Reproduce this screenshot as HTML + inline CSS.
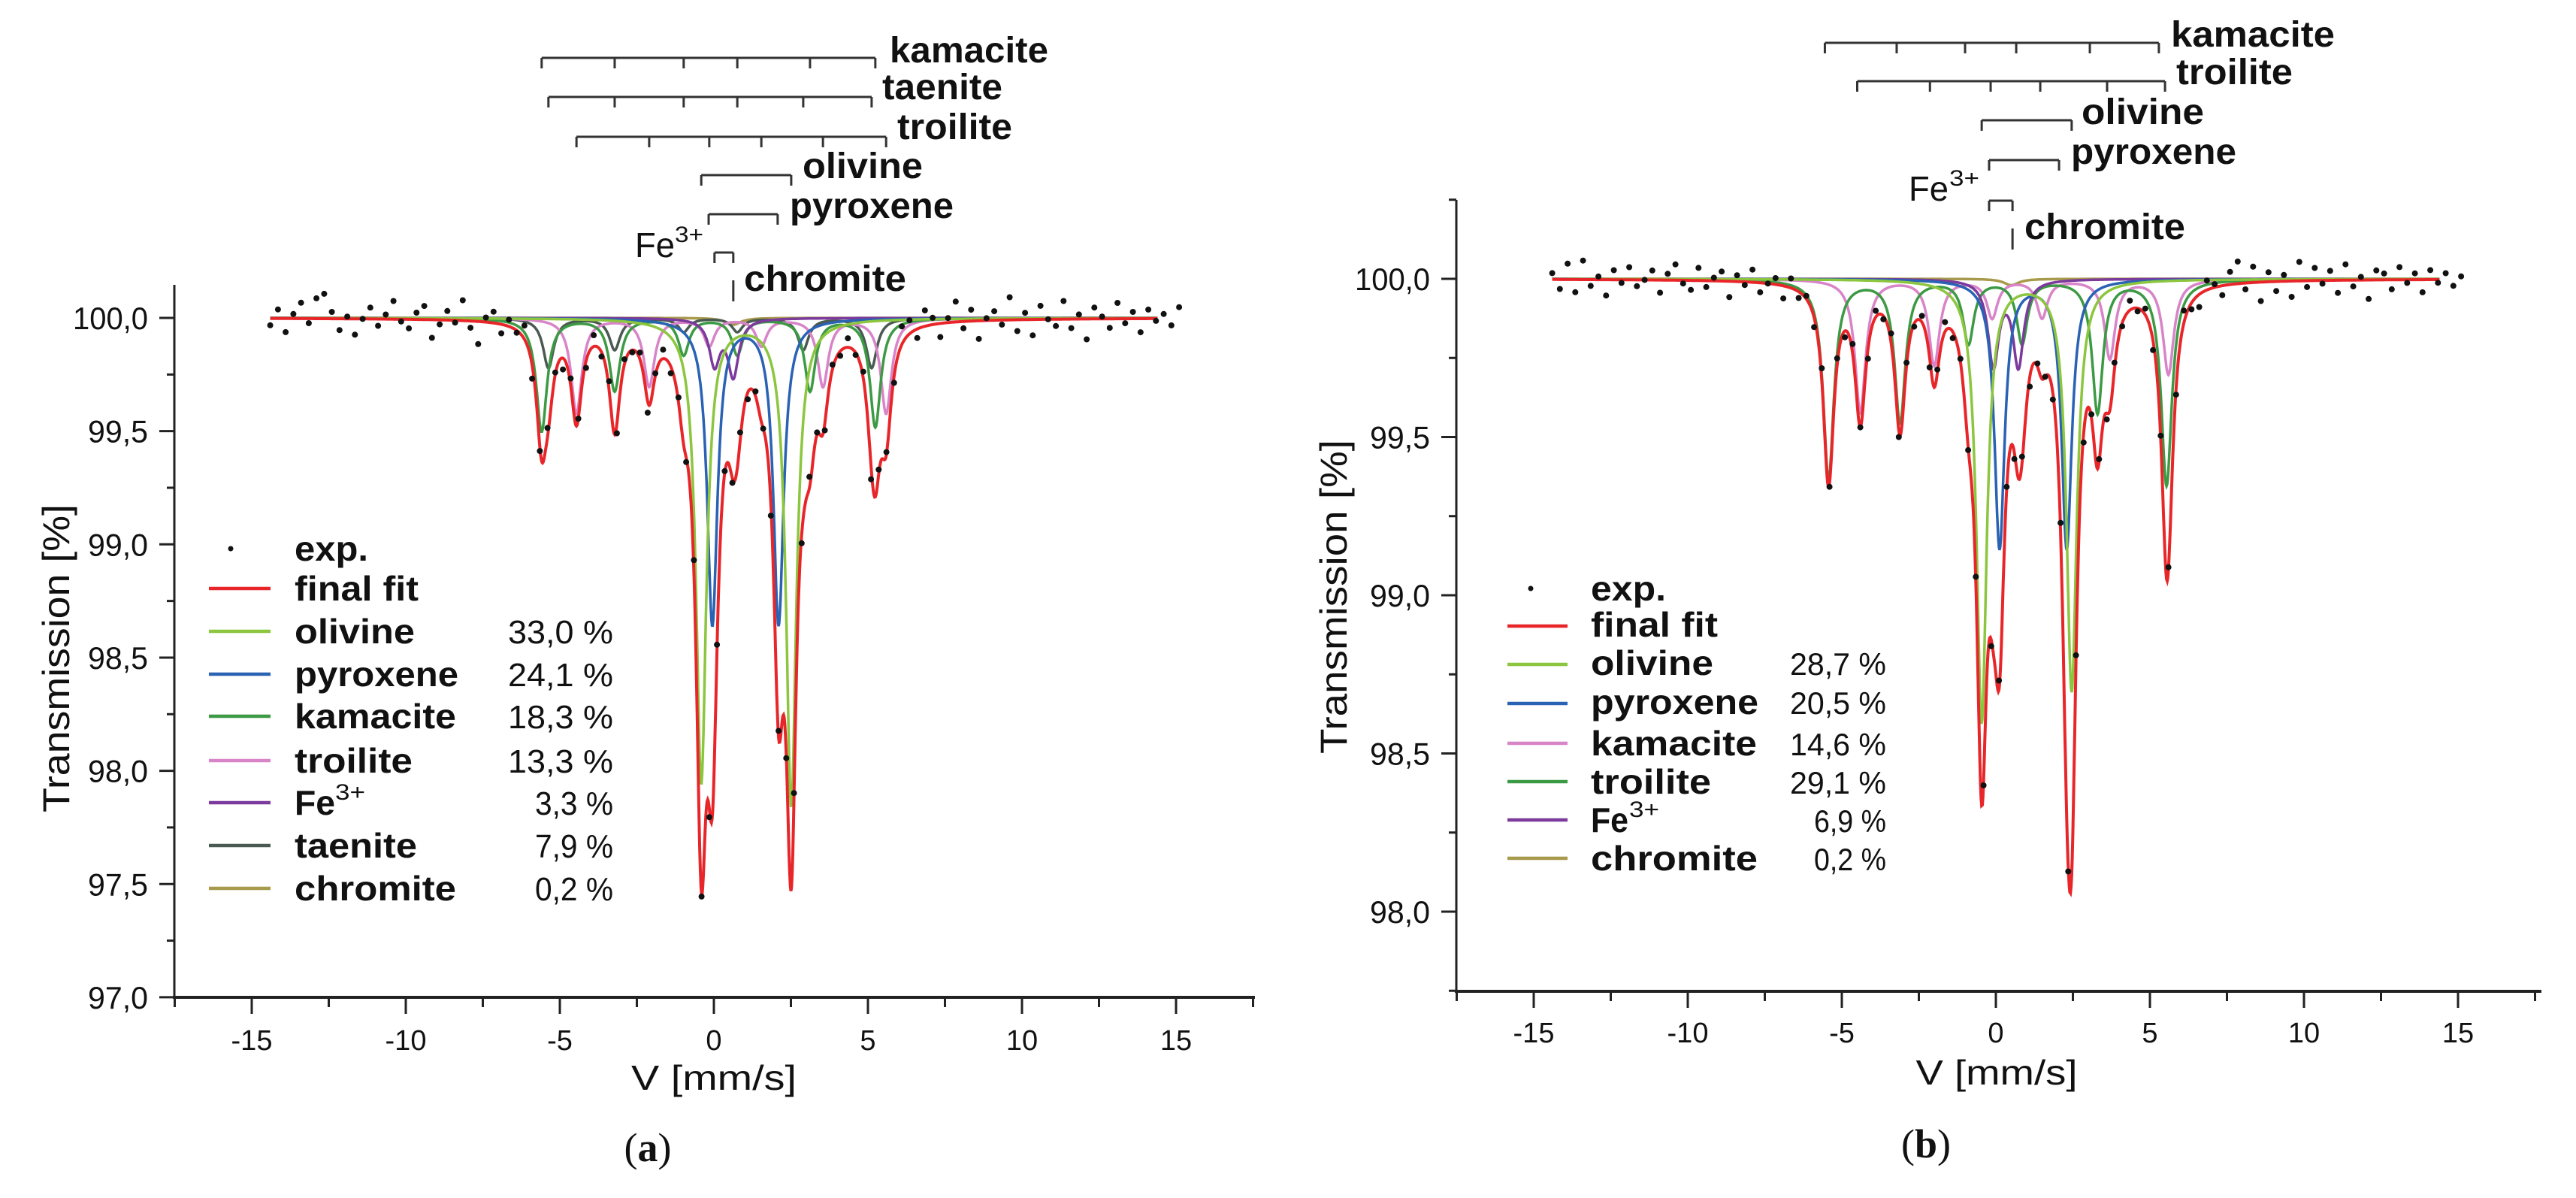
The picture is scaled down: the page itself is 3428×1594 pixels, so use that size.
<!DOCTYPE html>
<html><head><meta charset="utf-8"><title>Mössbauer spectra</title>
<style>
html,body{margin:0;padding:0;background:#fff;}
svg{display:block;}
text{font-family:"Liberation Sans",sans-serif;fill:#111;}
.nar{font-family:"Liberation Sans Narrow","Liberation Sans",sans-serif;}
.b{font-weight:bold;}
</style></head>
<body>
<svg id="fig" xmlns="http://www.w3.org/2000/svg" width="3428" height="1594" viewBox="0 0 3428 1594">
<rect x="0" y="0" width="3428" height="1594" fill="#fff"/>

<g>
  <g id="brA"></g>
  <text x="1184" y="83" font-size="48" class="b" textLength="211" lengthAdjust="spacingAndGlyphs">kamacite</text>
  <text x="1174" y="132" font-size="48" class="b" textLength="160" lengthAdjust="spacingAndGlyphs">taenite</text>
  <text x="1194" y="185" font-size="48" class="b" textLength="153" lengthAdjust="spacingAndGlyphs">troilite</text>
  <text x="1068" y="237" font-size="48" class="b" textLength="160" lengthAdjust="spacingAndGlyphs">olivine</text>
  <text x="1051" y="290" font-size="48" class="b" textLength="218" lengthAdjust="spacingAndGlyphs">pyroxene</text>
  <text x="845" y="342" font-size="46" textLength="53" lengthAdjust="spacingAndGlyphs">Fe</text>
  <text x="898" y="322" font-size="30" textLength="38" lengthAdjust="spacingAndGlyphs">3+</text>
  <text x="990" y="387" font-size="48" class="b" textLength="216" lengthAdjust="spacingAndGlyphs">chromite</text>

  <text transform="translate(92,876) rotate(-90)" text-anchor="middle" font-size="50" class="nar" textLength="410" lengthAdjust="spacingAndGlyphs">Transmission [%]</text>
  <text x="950" y="1450" text-anchor="middle" font-size="46" class="nar" textLength="220" lengthAdjust="spacingAndGlyphs">V [mm/s]</text>
  <text x="862" y="1545" text-anchor="middle" font-size="54" style="font-family:'Liberation Serif',serif">(<tspan font-weight="bold">a</tspan>)</text>

  <g>
    <circle cx="307" cy="730" r="3.5" fill="#111"/>
    <text x="392" y="746" font-size="46" class="b" textLength="98" lengthAdjust="spacingAndGlyphs">exp.</text>
    <line x1="278" y1="783" x2="360" y2="783" stroke="#e8262a" stroke-width="4.5"/>
    <text x="392" y="799" font-size="46" class="b" textLength="165" lengthAdjust="spacingAndGlyphs">final fit</text>
    <line x1="278" y1="840" x2="360" y2="840" stroke="#8cc63f" stroke-width="4.5"/>
    <text x="392" y="856" font-size="46" class="b" textLength="160" lengthAdjust="spacingAndGlyphs">olivine</text>
    <text x="816" y="856" text-anchor="end" font-size="44" textLength="140" lengthAdjust="spacingAndGlyphs">33,0 %</text>
    <line x1="278" y1="897" x2="360" y2="897" stroke="#2a62b4" stroke-width="4.5"/>
    <text x="392" y="913" font-size="46" class="b" textLength="218" lengthAdjust="spacingAndGlyphs">pyroxene</text>
    <text x="816" y="913" text-anchor="end" font-size="44" textLength="140" lengthAdjust="spacingAndGlyphs">24,1 %</text>
    <line x1="278" y1="953" x2="360" y2="953" stroke="#3c9a44" stroke-width="4.5"/>
    <text x="392" y="969" font-size="46" class="b" textLength="215" lengthAdjust="spacingAndGlyphs">kamacite</text>
    <text x="816" y="969" text-anchor="end" font-size="44" textLength="140" lengthAdjust="spacingAndGlyphs">18,3 %</text>
    <line x1="278" y1="1012" x2="360" y2="1012" stroke="#d884c8" stroke-width="4.5"/>
    <text x="392" y="1028" font-size="46" class="b" textLength="157" lengthAdjust="spacingAndGlyphs">troilite</text>
    <text x="816" y="1028" text-anchor="end" font-size="44" textLength="140" lengthAdjust="spacingAndGlyphs">13,3 %</text>
    <line x1="278" y1="1068" x2="360" y2="1068" stroke="#7b3a9c" stroke-width="4.5"/>
    <text x="392" y="1084" font-size="46" class="b" textLength="54" lengthAdjust="spacingAndGlyphs">Fe</text>
    <text x="446" y="1064" font-size="30" textLength="40" lengthAdjust="spacingAndGlyphs">3+</text>
    <text x="816" y="1084" text-anchor="end" font-size="44" textLength="104" lengthAdjust="spacingAndGlyphs">3,3 %</text>
    <line x1="278" y1="1125" x2="360" y2="1125" stroke="#4a5a52" stroke-width="4.5"/>
    <text x="392" y="1141" font-size="46" class="b" textLength="163" lengthAdjust="spacingAndGlyphs">taenite</text>
    <text x="816" y="1141" text-anchor="end" font-size="44" textLength="104" lengthAdjust="spacingAndGlyphs">7,9 %</text>
    <line x1="278" y1="1182" x2="360" y2="1182" stroke="#a89a4c" stroke-width="4.5"/>
    <text x="392" y="1198" font-size="46" class="b" textLength="215" lengthAdjust="spacingAndGlyphs">chromite</text>
    <text x="816" y="1198" text-anchor="end" font-size="44" textLength="104" lengthAdjust="spacingAndGlyphs">0,2 %</text>
  </g>
</g>

<g>
  <g id="brB"></g>
  <text x="2889" y="62" font-size="48" class="b" textLength="218" lengthAdjust="spacingAndGlyphs">kamacite</text>
  <text x="2896" y="112" font-size="48" class="b" textLength="155" lengthAdjust="spacingAndGlyphs">troilite</text>
  <text x="2770" y="165" font-size="48" class="b" textLength="163" lengthAdjust="spacingAndGlyphs">olivine</text>
  <text x="2756" y="218" font-size="48" class="b" textLength="220" lengthAdjust="spacingAndGlyphs">pyroxene</text>
  <text x="2540" y="267" font-size="46" textLength="53" lengthAdjust="spacingAndGlyphs">Fe</text>
  <text x="2594" y="247" font-size="30" textLength="40" lengthAdjust="spacingAndGlyphs">3+</text>
  <text x="2694" y="318" font-size="48" class="b" textLength="214" lengthAdjust="spacingAndGlyphs">chromite</text>

  <text transform="translate(1792,794) rotate(-90)" text-anchor="middle" font-size="50" class="nar" textLength="418" lengthAdjust="spacingAndGlyphs">Transmission [%]</text>
  <text x="2657" y="1443" text-anchor="middle" font-size="46" class="nar" textLength="215" lengthAdjust="spacingAndGlyphs">V [mm/s]</text>
  <text x="2563" y="1540" text-anchor="middle" font-size="54" style="font-family:'Liberation Serif',serif">(<tspan font-weight="bold">b</tspan>)</text>

  <g>
    <circle cx="2037" cy="783" r="3.5" fill="#111"/>
    <text x="2117" y="799" font-size="46" class="b" textLength="100" lengthAdjust="spacingAndGlyphs">exp.</text>
    <line x1="2006" y1="833" x2="2086" y2="833" stroke="#e8262a" stroke-width="4.5"/>
    <text x="2117" y="847" font-size="46" class="b" textLength="169" lengthAdjust="spacingAndGlyphs">final fit</text>
    <line x1="2006" y1="884" x2="2086" y2="884" stroke="#8cc63f" stroke-width="4.5"/>
    <text x="2117" y="898" font-size="46" class="b" textLength="163" lengthAdjust="spacingAndGlyphs">olivine</text>
    <text x="2510" y="898" text-anchor="end" font-size="42" textLength="128" lengthAdjust="spacingAndGlyphs">28,7 %</text>
    <line x1="2006" y1="936" x2="2086" y2="936" stroke="#2a62b4" stroke-width="4.5"/>
    <text x="2117" y="950" font-size="46" class="b" textLength="223" lengthAdjust="spacingAndGlyphs">pyroxene</text>
    <text x="2510" y="950" text-anchor="end" font-size="42" textLength="128" lengthAdjust="spacingAndGlyphs">20,5 %</text>
    <line x1="2006" y1="989" x2="2086" y2="989" stroke="#d884c8" stroke-width="4.5"/>
    <text x="2117" y="1005" font-size="46" class="b" textLength="221" lengthAdjust="spacingAndGlyphs">kamacite</text>
    <text x="2510" y="1005" text-anchor="end" font-size="42" textLength="128" lengthAdjust="spacingAndGlyphs">14,6 %</text>
    <line x1="2006" y1="1040" x2="2086" y2="1040" stroke="#3c9a44" stroke-width="4.5"/>
    <text x="2117" y="1056" font-size="46" class="b" textLength="160" lengthAdjust="spacingAndGlyphs">troilite</text>
    <text x="2510" y="1056" text-anchor="end" font-size="42" textLength="128" lengthAdjust="spacingAndGlyphs">29,1 %</text>
    <line x1="2006" y1="1091" x2="2086" y2="1091" stroke="#7b3a9c" stroke-width="4.5"/>
    <text x="2117" y="1107" font-size="46" class="b" textLength="50" lengthAdjust="spacingAndGlyphs">Fe</text>
    <text x="2168" y="1087" font-size="30" textLength="40" lengthAdjust="spacingAndGlyphs">3+</text>
    <text x="2510" y="1107" text-anchor="end" font-size="42" textLength="96" lengthAdjust="spacingAndGlyphs">6,9 %</text>
    <line x1="2006" y1="1142" x2="2086" y2="1142" stroke="#a89a4c" stroke-width="4.5"/>
    <text x="2117" y="1158" font-size="46" class="b" textLength="222" lengthAdjust="spacingAndGlyphs">chromite</text>
    <text x="2510" y="1158" text-anchor="end" font-size="42" textLength="96" lengthAdjust="spacingAndGlyphs">0,2 %</text>
  </g>
</g>
<g id="plotsLayer"></g>
</svg>

<script>
var xTickValues = [-15, -10, -5, 0, 5, 10, 15];
var xTickLabels = ["-15", "-10", "-5", "0", "5", "10", "15"];
var xMinorValues = [-17.5, -12.5, -7.5, -2.5, 2.5, 7.5, 12.5, 17.5];

var yTickValuesA = [97.0, 97.5, 98.0, 98.5, 99.0, 99.5, 100.0];
var yTickLabelsA = ["97,0", "97,5", "98,0", "98,5", "99,0", "99,5", "100,0"];
var yMinorValuesA = [97.25, 97.75, 98.25, 98.75, 99.25, 99.75];
var olivinePosA = [-0.41, 2.51];
var olivineDepthA = [2.05, 2.15];
var pyroxenePosA = [-0.05, 2.1];
var pyroxeneDepthA = [1.35, 1.35];
var kamacitePosA = [-5.59, -3.22, -0.98, 0.76, 3.12, 5.24];
var kamaciteDepthA = [0.5, 0.32, 0.16, 0.16, 0.32, 0.48];
var troilitePosA = [-4.46, -2.1, -0.15, 1.54, 3.54, 5.59];
var troiliteDepthA = [0.42, 0.3, 0.12, 0.12, 0.3, 0.42];
var fe3PosA = [0.02, 0.63];
var fe3DepthA = [0.2, 0.25];
var taenitePosA = [-5.37, -3.22, -0.98, 0.76, 2.9, 5.12];
var taeniteDepthA = [0.22, 0.14, 0.06, 0.06, 0.14, 0.22];
var chromitePosA = [0.63];
var chromiteDepthA = [0.03];
var pyroxeneBracketA = [-0.17, 2.07];
var residA = [-3,4,-6,2,7,-2,9,11,3,-5,1,-7,0,5,-3,2,8,-1,-4,3,6,-8,-2,4,-1,9,-3,-10,2,5,-4,3,-1,6,-6,-2,4,1,-5,3,0,-3,5,-2,4,-4,2,-1,3,-5,1,4,-3,2,-2,5,-1,-4,3,1,-2,4,-3,2,0,-5,3,-1,2,-4,5,1,-3,2,-2,4,-1,3,-6,2,1,-3,8,6,-4,7,3,-6,2,9,-3,5,-8,1,4,-2,10,-5,3,-7,6,0,-3,8,-4,2,-9,5,1,-4,7,-2,3,-6,4,-1,2,-3,5];

var yTickValuesB = [98.0, 98.5, 99.0, 99.5, 100.0];
var yTickLabelsB = ["98,0", "98,5", "99,0", "99,5", "100,0"];
var yMinorValuesB = [97.75, 98.25, 98.75, 99.25, 99.75, 100.25];
var olivinePosB = [-0.46, 2.46];
var olivineDepthB = [1.4, 1.3];
var pyroxenePosB = [0.12, 2.3];
var pyroxeneDepthB = [0.85, 0.85];
var troiliteGreenPosB = [-5.43, -3.11, -0.89, 0.85, 3.3, 5.54];
var troiliteGreenDepthB = [0.63, 0.45, 0.2, 0.2, 0.42, 0.65];
var kamacitePinkPosB = [-4.4, -2.0, -0.12, 1.5, 3.7, 5.6];
var kamacitePinkDepthB = [0.42, 0.27, 0.12, 0.12, 0.25, 0.3];
var fe3PosB = [-0.08, 0.73];
var fe3DepthB = [0.27, 0.27];
var chromitePosB = [0.5];
var chromiteDepthB = [0.02];
var kamaciteBracketB = [-5.55, -3.22, -1.0, 0.66, 3.05, 5.29];
var troiliteBracketB = [-4.5, -2.14, -0.17, 1.44, 3.61, 5.49];
var pyroxeneBracketB = [-0.22, 2.05];
var fe3BracketB = [-0.22, 0.54];
var chromiteBracketB = [0.54];
var residB = [2,-3,5,-4,6,-2,1,-5,3,-1,4,-2,0,3,-4,2,5,-1,-3,4,-2,1,3,-5,2,-1,4,-3,0,2,-4,3,-2,1,-3,4,-1,2,-2,3,0,-3,2,-1,3,-2,1,-1,2,-3,1,3,-2,1,-1,2,-1,-2,3,1,-2,2,-3,1,0,-2,3,-1,2,-3,1,1,-2,2,-1,3,-1,2,-3,1,1,-2,4,-2,-4,3,1,-3,4,7,-2,5,-6,3,-3,2,-5,6,-2,4,-1,3,-4,5,-2,1,-6,3,2,-3,4,-1,2,-4,3,-1,2,-2,1];

(function () {
  var SVGNS = 'http://www.w3.org/2000/svg';
  var layer = document.getElementById('plotsLayer');
  var HW = 0.21;
  var HWD = 0.2;

  function mkNode(tag, parent) {
    var n = document.createElementNS(SVGNS, tag);
    parent.appendChild(n);
    return n;
  }
  function lorSum(v, pos, depth, w) {
    var s = 0;
    for (var i = 0; i < pos.length; i++) {
      var d = (v - pos[i]) / w;
      s += depth[i] / (1 + d * d);
    }
    return s;
  }

  function drawPanel(cfg) {
    var g = mkNode('g', layer);
    
    
    function X(v) { return cfg.x0 + v * cfg.kx; }
    function Y(t) { return cfg.y100 + (100 - t) * cfg.ky; }
    function total(v) {
      var s = 0;
      for (var k = 0; k < cfg.comps.length; k++) {
        var c = cfg.comps[k];
        s += lorSum(v, c.pos, c.depth, c.w);
      }
      return s;
    }
    var i, j, t, v, tk, lb;

    var ya = mkNode('line', g);
    
    
    ya.setAttribute('x1', cfg.axisX); ya.setAttribute('x2', cfg.axisX);
    ya.setAttribute('y1', cfg.axisTop); ya.setAttribute('y2', cfg.axisBottom + 2);
    ya.setAttribute('stroke', '#222'); ya.setAttribute('stroke-width', 3);
    var xa = mkNode('line', g);
    
    
    xa.setAttribute('x1', cfg.axisX - 2); xa.setAttribute('x2', cfg.axisRight);
    xa.setAttribute('y1', cfg.axisBottom); xa.setAttribute('y2', cfg.axisBottom);
    xa.setAttribute('stroke', '#222'); xa.setAttribute('stroke-width', 4);

    for (i = 0; i < cfg.yTicks.length; i++) {
      t = cfg.yTicks[i];
      tk = mkNode('line', g);
      
      
      tk.setAttribute('x1', cfg.axisX - 20); tk.setAttribute('x2', cfg.axisX);
      tk.setAttribute('y1', Y(t)); tk.setAttribute('y2', Y(t));
      tk.setAttribute('stroke', '#222'); tk.setAttribute('stroke-width', 3);
      lb = mkNode('text', g);
      
      
      lb.setAttribute('x', cfg.axisX - 35); lb.setAttribute('y', Y(t) + 15);
      lb.setAttribute('text-anchor', 'end'); lb.setAttribute('font-size', 42);
      lb.setAttribute('fill', '#333');
      lb.setAttribute('textLength', cfg.yLabels[i].length * 20);
      lb.setAttribute('lengthAdjust', 'spacingAndGlyphs');
      lb.textContent = cfg.yLabels[i];
    }
    for (i = 0; i < cfg.yMinor.length; i++) {
      t = cfg.yMinor[i];
      tk = mkNode('line', g);
      
      
      tk.setAttribute('x1', cfg.axisX - 10); tk.setAttribute('x2', cfg.axisX);
      tk.setAttribute('y1', Y(t)); tk.setAttribute('y2', Y(t));
      tk.setAttribute('stroke', '#222'); tk.setAttribute('stroke-width', 3);
    }
    for (i = 0; i < xTickValues.length; i++) {
      v = xTickValues[i];
      tk = mkNode('line', g);
      
      
      tk.setAttribute('x1', X(v)); tk.setAttribute('x2', X(v));
      tk.setAttribute('y1', cfg.axisBottom); tk.setAttribute('y2', cfg.axisBottom + 22);
      tk.setAttribute('stroke', '#222'); tk.setAttribute('stroke-width', 3);
      lb = mkNode('text', g);
      
      
      lb.setAttribute('x', X(v)); lb.setAttribute('y', cfg.xLabelY);
      lb.setAttribute('text-anchor', 'middle'); lb.setAttribute('font-size', 38);
      lb.setAttribute('fill', '#333');
      lb.textContent = xTickLabels[i];
    }
    for (i = 0; i < xMinorValues.length; i++) {
      v = xMinorValues[i];
      tk = mkNode('line', g);
      
      
      tk.setAttribute('x1', X(v)); tk.setAttribute('x2', X(v));
      tk.setAttribute('y1', cfg.axisBottom); tk.setAttribute('y2', cfg.axisBottom + 13);
      tk.setAttribute('stroke', '#222'); tk.setAttribute('stroke-width', 3);
    }

    var vs = [];
    for (j = 0; j <= 1440; j++) vs.push(-14.4 + j * 0.02);

    for (i = 0; i < cfg.comps.length; i++) {
      var c = cfg.comps[i];
      var d = '';
      for (j = 0; j < vs.length; j++) {
        d += (j ? 'L' : 'M') + X(vs[j]).toFixed(1) + ' ' + Y(100 - lorSum(vs[j], c.pos, c.depth, c.w)).toFixed(1);
      }
      var p = mkNode('path', g);
      
      
      p.setAttribute('d', d);
      p.setAttribute('fill', 'none'); p.setAttribute('stroke', c.color); p.setAttribute('stroke-width', 3.5);
    }
    var fd = '';
    for (j = 0; j < vs.length; j++) {
      fd += (j ? 'L' : 'M') + X(vs[j]).toFixed(1) + ' ' + Y(100 - total(vs[j])).toFixed(1);
    }
    var fit = mkNode('path', g);
    
    
    fit.setAttribute('d', fd);
    fit.setAttribute('fill', 'none'); fit.setAttribute('stroke', '#e8262a'); fit.setAttribute('stroke-width', 4);

    for (i = 0; i < cfg.resid.length; i++) {
      v = -14.4 + i * 0.25;
      var dot = mkNode('circle', g);
      
      
      dot.setAttribute('cx', X(v).toFixed(1));
      dot.setAttribute('cy', Y(100 - total(v) + cfg.resid[i] / 100).toFixed(1));
      dot.setAttribute('r', 4); dot.setAttribute('fill', '#111');
    }

    var bg = document.getElementById(cfg.bracketGroup);
    for (i = 0; i < cfg.brackets.length; i++) {
      var b = cfg.brackets[i];
      var bd = '';
      if (b.pos.length > 1) {
        bd = 'M' + X(b.pos[0]) + ' ' + b.y + 'L' + X(b.pos[b.pos.length - 1]) + ' ' + b.y;
      }
      for (j = 0; j < b.pos.length; j++) {
        bd += 'M' + X(b.pos[j]) + ' ' + (b.pos.length === 1 ? b.y - 14 : b.y) + 'L' + X(b.pos[j]) + ' ' + (b.y + 14);
      }
      var bp = mkNode('path', bg);
      
      
      bp.setAttribute('d', bd);
      bp.setAttribute('fill', 'none'); bp.setAttribute('stroke', '#333'); bp.setAttribute('stroke-width', 3);
    }
  }

  try {
    drawPanel({
      id: 'panel-a', x0: 950, kx: 41, y100: 423, ky: 301.3,
      axisX: 232, axisTop: 379, axisBottom: 1327, axisRight: 1670, xLabelY: 1397,
      yTicks: yTickValuesA, yLabels: yTickLabelsA, yMinor: yMinorValuesA, resid: residA,
      bracketGroup: 'brA',
      comps: [
        {name: 'chromite', pos: chromitePosA, depth: chromiteDepthA, w: 0.3, color: '#a89a4c'},
        {name: 'taenite', pos: taenitePosA, depth: taeniteDepthA, w: HW, color: '#4a5a52'},
        {name: 'troilite', pos: troilitePosA, depth: troiliteDepthA, w: HW, color: '#d884c8'},
        {name: 'kamacite', pos: kamacitePosA, depth: kamaciteDepthA, w: HW, color: '#3c9a44'},
        {name: 'fe3', pos: fe3PosA, depth: fe3DepthA, w: HW, color: '#7b3a9c'},
        {name: 'pyroxene', pos: pyroxenePosA, depth: pyroxeneDepthA, w: HWD, color: '#2a62b4'},
        {name: 'olivine', pos: olivinePosA, depth: olivineDepthA, w: HWD, color: '#8cc63f'}
      ],
      brackets: [
        {name: 'kamacite', y: 77, pos: kamacitePosA},
        {name: 'taenite', y: 129, pos: taenitePosA},
        {name: 'troilite', y: 182, pos: troilitePosA},
        {name: 'olivine', y: 233, pos: olivinePosA},
        {name: 'pyroxene', y: 285, pos: pyroxeneBracketA},
        {name: 'fe3', y: 336, pos: fe3PosA},
        {name: 'chromite', y: 387, pos: chromitePosA}
      ]
    });
  } catch (e) {}

  try {
    drawPanel({
      id: 'panel-b', x0: 2656, kx: 41, y100: 371, ky: 421,
      axisX: 1938, axisTop: 266, axisBottom: 1319, axisRight: 3382, xLabelY: 1387,
      yTicks: yTickValuesB, yLabels: yTickLabelsB, yMinor: yMinorValuesB, resid: residB,
      bracketGroup: 'brB',
      comps: [
        {name: 'chromite', pos: chromitePosB, depth: chromiteDepthB, w: 0.3, color: '#a89a4c'},
        {name: 'kamacite', pos: kamacitePinkPosB, depth: kamacitePinkDepthB, w: HW, color: '#d884c8'},
        {name: 'troilite', pos: troiliteGreenPosB, depth: troiliteGreenDepthB, w: HW, color: '#3c9a44'},
        {name: 'fe3', pos: fe3PosB, depth: fe3DepthB, w: HW, color: '#7b3a9c'},
        {name: 'pyroxene', pos: pyroxenePosB, depth: pyroxeneDepthB, w: HWD, color: '#2a62b4'},
        {name: 'olivine', pos: olivinePosB, depth: olivineDepthB, w: HWD, color: '#8cc63f'}
      ],
      brackets: [
        {name: 'kamacite', y: 57, pos: kamaciteBracketB},
        {name: 'troilite', y: 108, pos: troiliteBracketB},
        {name: 'olivine', y: 160, pos: olivinePosB},
        {name: 'pyroxene', y: 213, pos: pyroxeneBracketB},
        {name: 'fe3', y: 267, pos: fe3BracketB},
        {name: 'chromite', y: 318, pos: chromiteBracketB}
      ]
    });
  } catch (e) {}
})();
</script>
</body></html>
